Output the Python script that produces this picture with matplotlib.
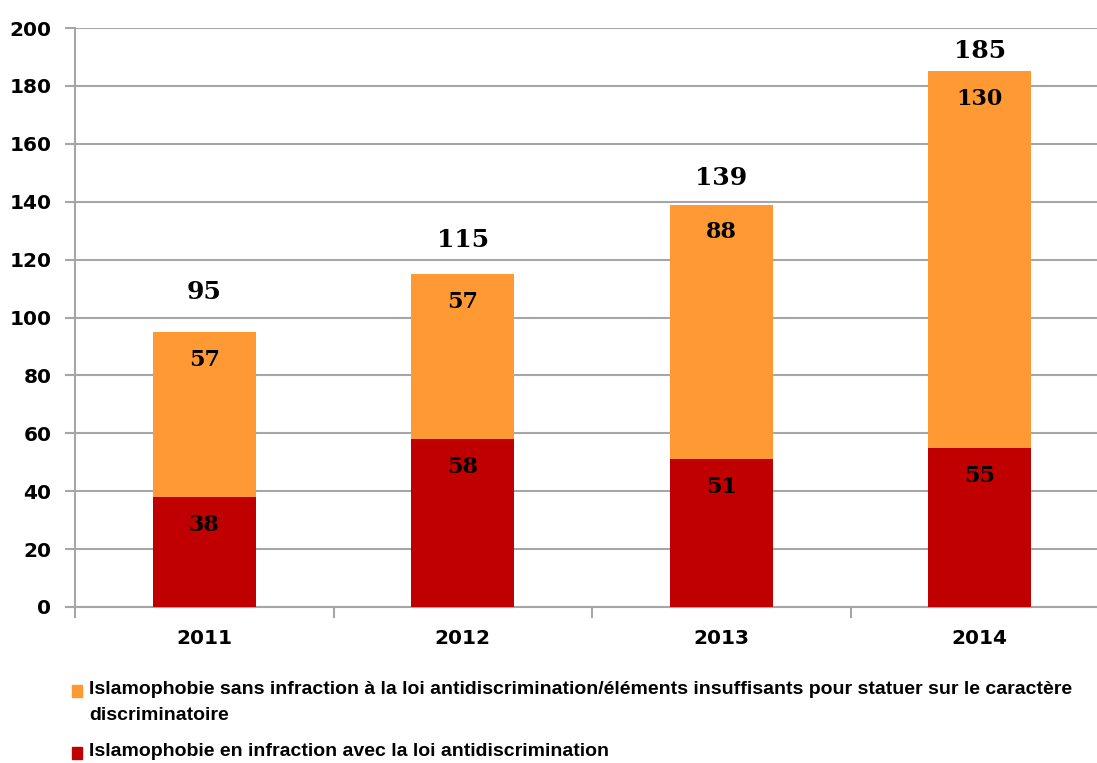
import matplotlib.pyplot as plt
import numpy as np

years = ['2011', '2012', '2013', '2014']
en_infraction = [38, 58, 51, 55]
sans_infraction = [57, 57, 88, 130]
totals = [95, 115, 139, 185]
total_offsets = [29, 24.5, 19.5, 15]  # points above bar top, as placed in the original

label_sans_1 = "Islamophobie sans infraction à la loi antidiscrimination/éléments insuffisants pour statuer sur le caractère"
label_sans_2 = "discriminatoire"
label_en = "Islamophobie en infraction avec la loi antidiscrimination"

c_red = '#C00000'
c_orange = '#FF9933'
c_grid = '#A6A6A6'

fig = plt.figure(figsize=(10.97, 7.63), dpi=100)
ax = fig.add_axes([75 / 1097, 156 / 763, 1034 / 1097, 579 / 763])

x = np.arange(len(years))
w = 0.4
ax.bar(x, en_infraction, w, color=c_red, zorder=3)
ax.bar(x, sans_infraction, w, bottom=en_infraction, color=c_orange, zorder=3)

ax.set_xlim(-0.5, len(years) - 0.5)
ax.set_ylim(0, 200)
ax.set_yticks(range(0, 201, 20))
ax.yaxis.grid(True, color=c_grid, lw=1.5, zorder=0)
ax.set_axisbelow(True)

for s in ['top', 'right']:
    ax.spines[s].set_visible(False)
for s in ['left', 'bottom']:
    ax.spines[s].set_color(c_grid)
    ax.spines[s].set_linewidth(1.5)

ax.set_xticks(x)
ax.set_xticklabels(years)
ax.set_xticks(np.arange(-0.5, len(years)), minor=True)
ax.tick_params(axis='x', which='major', length=0, pad=16)
ax.tick_params(axis='x', which='minor', length=8, width=1.5, color=c_grid)
ax.tick_params(axis='y', length=7, width=1.5, color=c_grid, pad=10)
for t in ax.get_xticklabels() + ax.get_yticklabels():
    t.set_fontsize(14.5)
    t.set_fontweight('bold')
    t.set_family('DejaVu Sans')

for i in range(len(years)):
    ax.annotate(str(en_infraction[i]), (x[i], en_infraction[i]), xytext=(0, -20),
                textcoords='offset points', ha='center', va='center',
                fontsize=16, fontweight='bold', family='DejaVu Serif', zorder=4)
    ax.annotate(str(sans_infraction[i]), (x[i], totals[i]), xytext=(0, -20),
                textcoords='offset points', ha='center', va='center',
                fontsize=16, fontweight='bold', family='DejaVu Serif', zorder=4)
    ax.annotate(str(totals[i]), (x[i], totals[i]), xytext=(0, total_offsets[i]),
                textcoords='offset points', ha='center', va='center',
                fontsize=18, fontweight='bold', family='DejaVu Serif', zorder=4)

# legend drawn as figure text, like the original
fig.patches.append(plt.Rectangle((72 / 1097, (763 - 697) / 763), 10 / 1097, 12 / 763,
                                 transform=fig.transFigure, color=c_orange))
fig.patches.append(plt.Rectangle((72 / 1097, (763 - 759) / 763), 10 / 1097, 12 / 763,
                                 transform=fig.transFigure, color=c_red))
legend_font = dict(fontsize=14, fontweight='bold', family='Liberation Sans', va='center')
fig.text(89 / 1097, (763 - 690) / 763, label_sans_1, **legend_font)
fig.text(89 / 1097, (763 - 716) / 763, label_sans_2, **legend_font)
fig.text(89 / 1097, (763 - 752) / 763, label_en, **legend_font)

fig.savefig('out.png', dpi=100)
